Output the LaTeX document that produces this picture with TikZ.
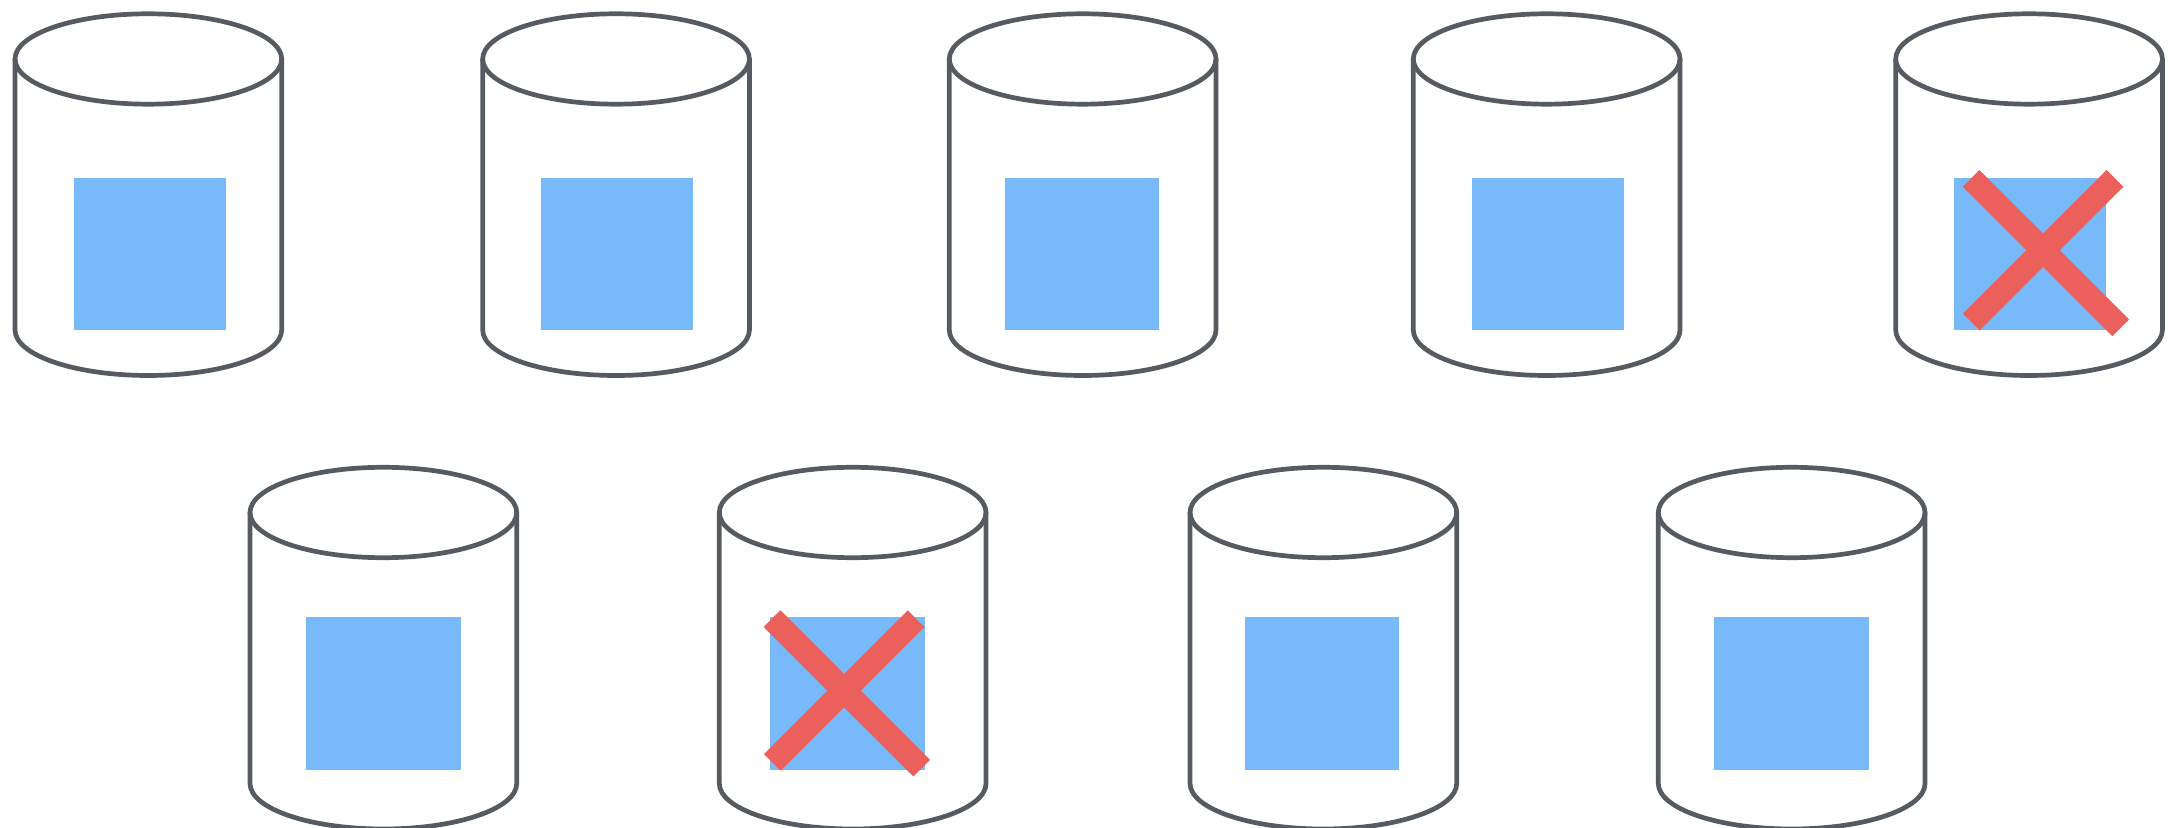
\documentclass[tikz,border=0pt]{standalone}
\usepackage{xcolor}
\usepackage{tikz}
\definecolor{drumgrey}{HTML}{565B62}
\definecolor{blockblue}{HTML}{78B9FA}
\definecolor{failred}{HTML}{EC605B}

\begin{document}
\begin{tikzpicture}[
      x=0.01cm, y=-0.01cm,
      drum/.style={draw=drumgrey, line width=0.047cm},
      block/.style={fill=blockblue},
      failmark/.style={draw=failred, line width=0.236cm}
  ]

    \useasboundingbox (0, 0) rectangle (2173, 828);

    % --- Drums: left edge / block left / block width / lid centre / block top ---
    \foreach \lx/\bx/\bw/\cy/\by in {
        15/74/152/59/177.7, 482.7/541/151.7/59/177.7, 949.3/1005/154.3/59/177.7,
        1413.3/1471.7/152/59/177.7, 1895.7/1954.3/151.7/59/177.7,
        250/306/154.7/512.5/617.5, 719.3/770/155/512.5/617.5,
        1190/1244.7/154.6/512.5/617.5, 1658.3/1714/155/512.5/617.5} {
      \fill[block] (\bx, \by) rectangle (\bx+\bw, \by+152);
      \draw[drum] (\lx, \cy) -- (\lx, \cy+271)
            arc[start angle=180, end angle=0, x radius=133.35, y radius=45.5]
            -- (\lx+266.7, \cy);
      \draw[drum] (\lx+133.35, \cy) ellipse[x radius=133.35, y radius=45.2];
    }

    % --- Failed blocks ---
    \foreach \mx/\my in {1971/178.3, 772/618.7} {
      \draw[failmark] (\mx, \my) -- (\mx+149.7, \my+149.5);
      \draw[failmark] (\mx+144, \my) -- (\mx+0.3, \my+143.7);
    }

\end{tikzpicture}
\end{document}
